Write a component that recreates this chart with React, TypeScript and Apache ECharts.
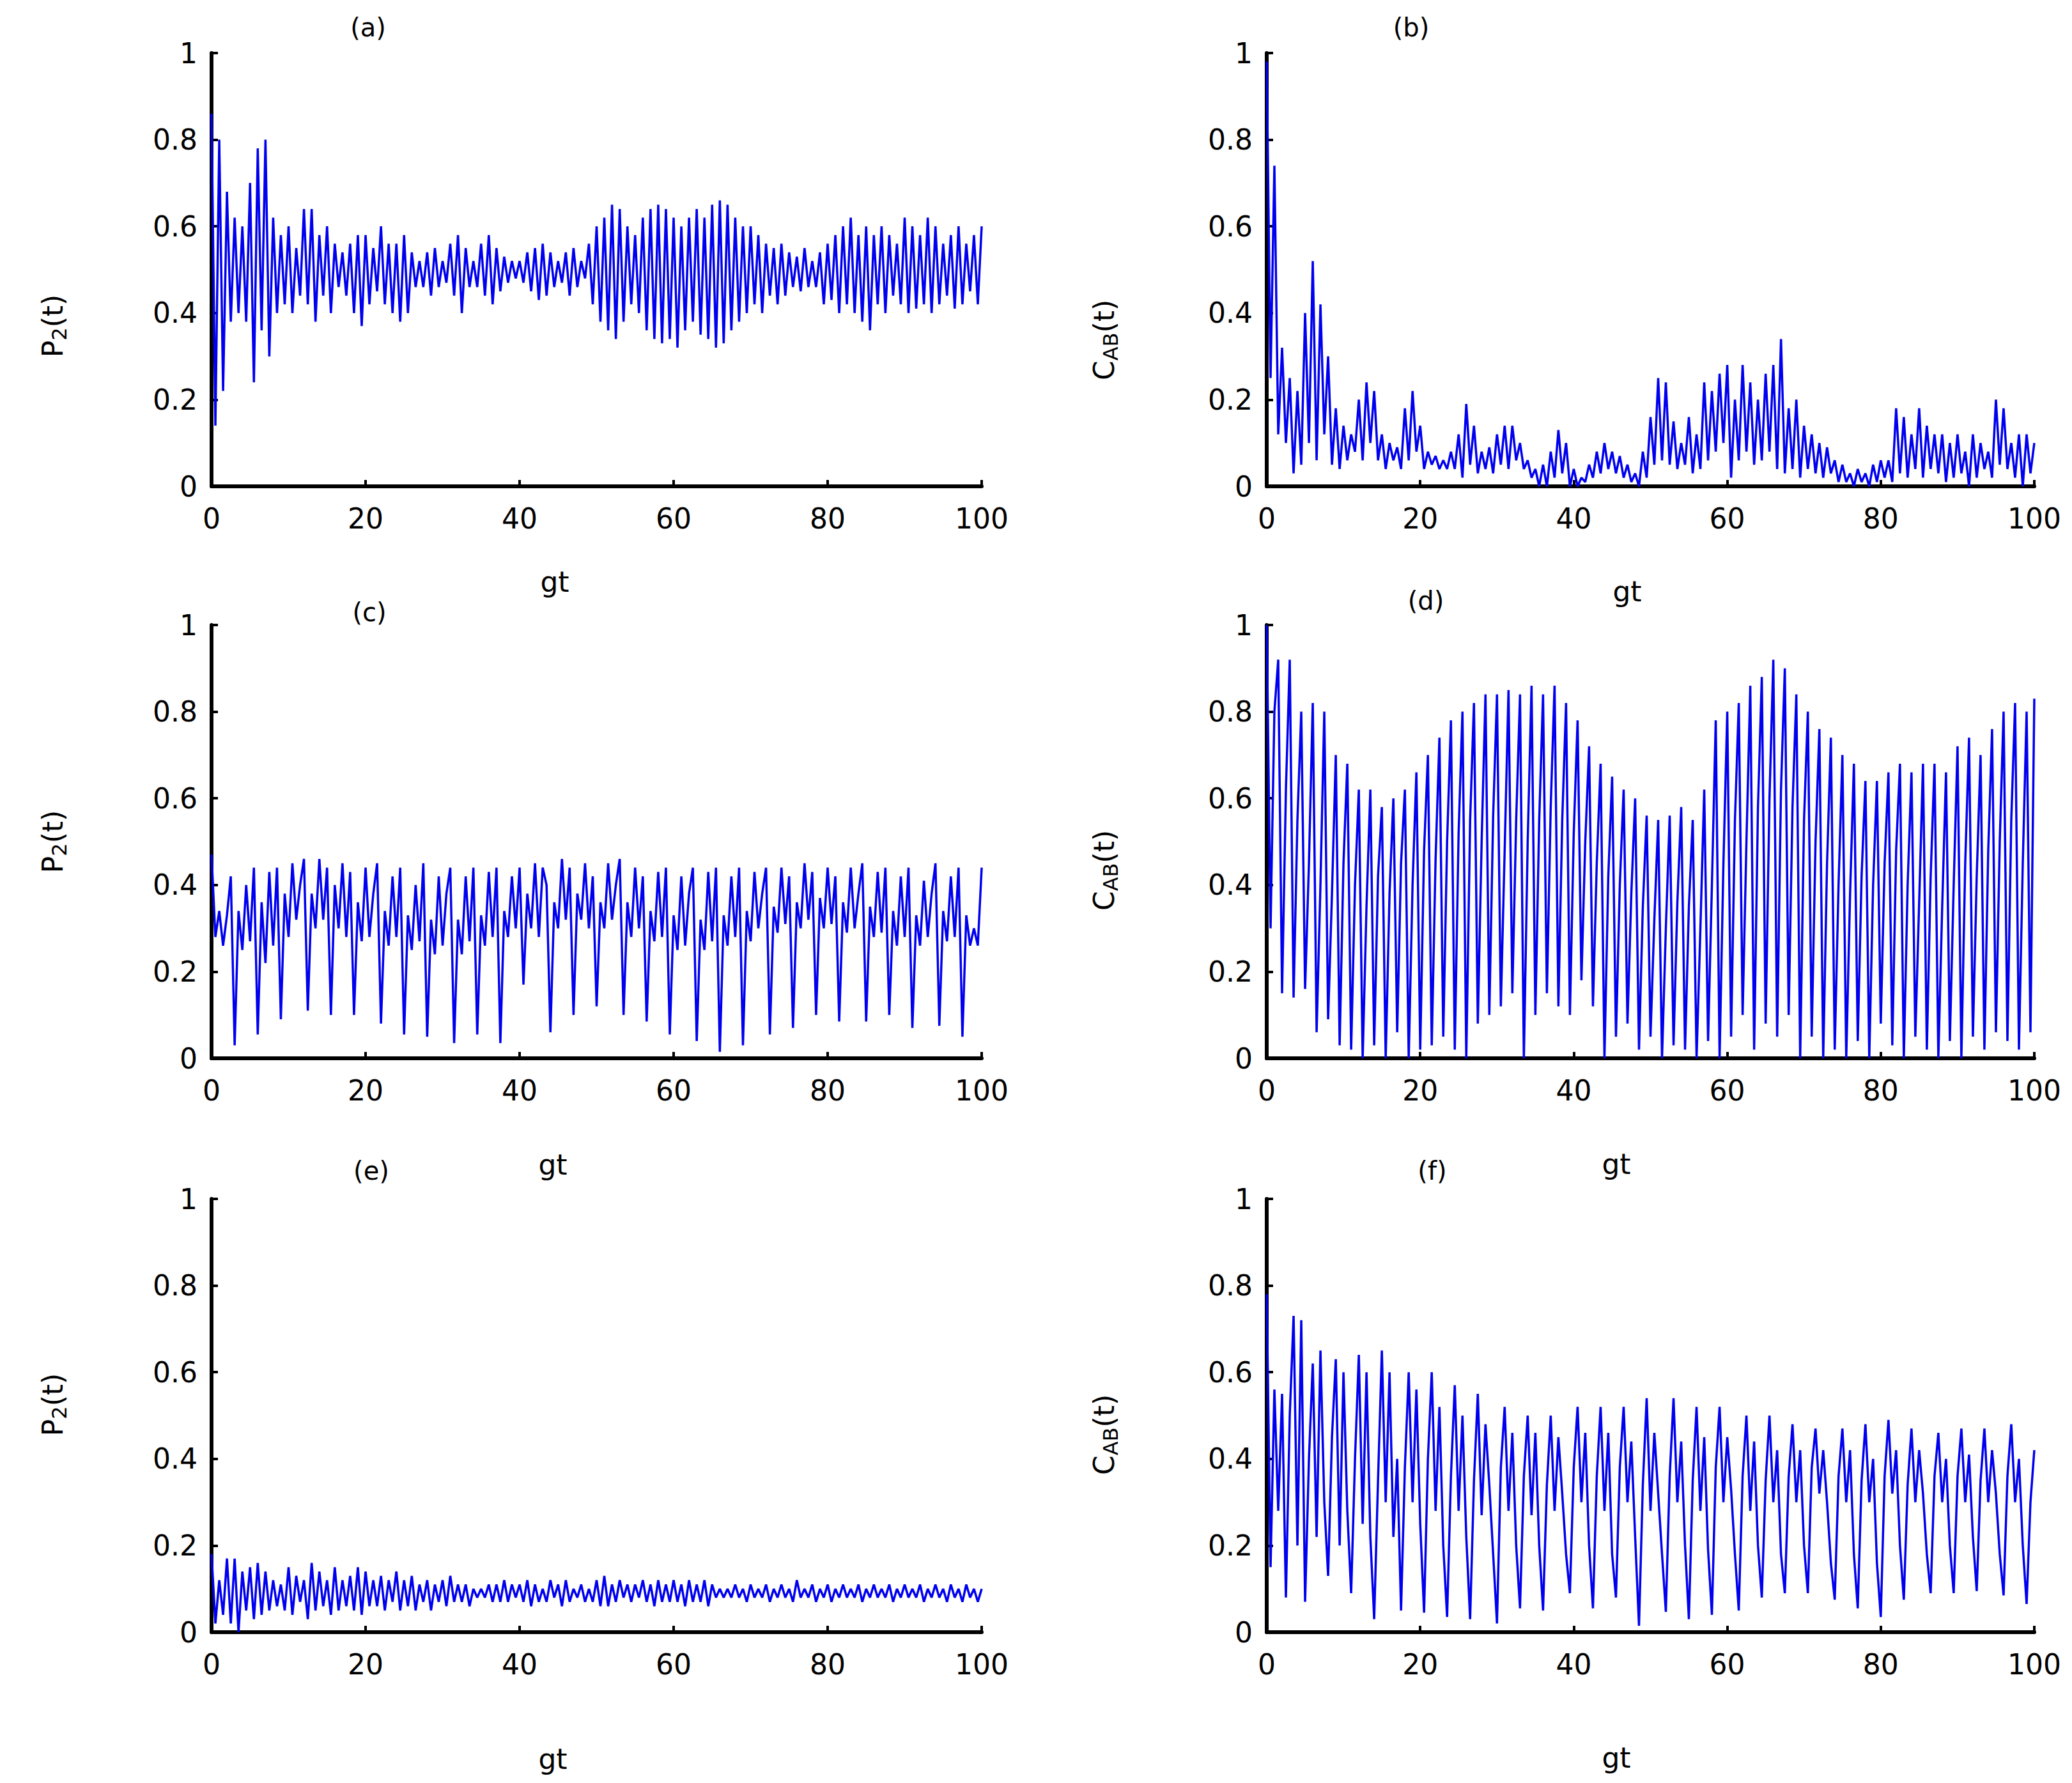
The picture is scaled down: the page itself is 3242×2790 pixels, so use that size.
import React, { useEffect, useRef } from "react";
import * as echarts from "echarts";

// sampling grid of gt (0 .. 100, step 0.5)
const TIME_STEP = 0.5;
const X_MIN = 0;
const X_MAX = 100;
const X_INTERVAL = 20;
const Y_MIN = 0;
const Y_MAX = 1;
const Y_INTERVAL = 0.2;

const PANEL_LETTERS = ["(a)", "(b)", "(c)", "(d)", "(e)", "(f)"];
const X_TITLE = "gt";

// (a) P2(t)
const P2_A = [
  0.86, 0.14, 0.80, 0.22, 0.68, 0.38, 0.62, 0.40, 0.60, 0.38,
  0.70, 0.24, 0.78, 0.36, 0.80, 0.30, 0.62, 0.40, 0.58, 0.42,
  0.60, 0.40, 0.55, 0.44, 0.64, 0.42, 0.64, 0.38, 0.58, 0.44,
  0.60, 0.40, 0.56, 0.46, 0.54, 0.44, 0.56, 0.40, 0.58, 0.37,
  0.58, 0.42, 0.55, 0.45, 0.60, 0.42, 0.56, 0.40, 0.56, 0.38,
  0.58, 0.40, 0.54, 0.46, 0.52, 0.46, 0.54, 0.44, 0.55, 0.46,
  0.52, 0.47, 0.56, 0.44, 0.58, 0.40, 0.55, 0.46, 0.52, 0.46,
  0.56, 0.44, 0.58, 0.42, 0.55, 0.45, 0.53, 0.47, 0.52, 0.48,
  0.52, 0.47, 0.54, 0.45, 0.55, 0.43, 0.56, 0.44, 0.54, 0.46,
  0.52, 0.47, 0.54, 0.44, 0.55, 0.46, 0.52, 0.48, 0.56, 0.42,
  0.60, 0.38, 0.62, 0.36, 0.65, 0.34, 0.64, 0.38, 0.60, 0.42,
  0.58, 0.40, 0.62, 0.36, 0.64, 0.34, 0.65, 0.33, 0.64, 0.34,
  0.62, 0.32, 0.60, 0.36, 0.62, 0.38, 0.64, 0.35, 0.62, 0.34,
  0.65, 0.32, 0.66, 0.33, 0.65, 0.36, 0.62, 0.38, 0.60, 0.40,
  0.60, 0.42, 0.58, 0.40, 0.56, 0.44, 0.55, 0.42, 0.56, 0.44,
  0.54, 0.46, 0.53, 0.45, 0.55, 0.46, 0.52, 0.46, 0.54, 0.42,
  0.56, 0.43, 0.58, 0.40, 0.60, 0.42, 0.62, 0.40, 0.58, 0.38,
  0.60, 0.36, 0.58, 0.42, 0.60, 0.40, 0.58, 0.44, 0.56, 0.42,
  0.62, 0.40, 0.60, 0.41, 0.58, 0.42, 0.62, 0.40, 0.60, 0.42,
  0.56, 0.44, 0.58, 0.41, 0.60, 0.42, 0.56, 0.45, 0.58, 0.42,
  0.60,
];

// (b) C_AB(t)
const CAB_B = [
  0.98, 0.25, 0.74, 0.12, 0.32, 0.10, 0.25, 0.03, 0.22, 0.05,
  0.40, 0.10, 0.52, 0.06, 0.42, 0.12, 0.30, 0.05, 0.18, 0.04,
  0.14, 0.06, 0.12, 0.08, 0.20, 0.06, 0.24, 0.10, 0.22, 0.06,
  0.12, 0.04, 0.10, 0.06, 0.09, 0.04, 0.18, 0.06, 0.22, 0.08,
  0.14, 0.04, 0.08, 0.05, 0.07, 0.04, 0.06, 0.04, 0.08, 0.04,
  0.12, 0.02, 0.19, 0.05, 0.14, 0.03, 0.08, 0.04, 0.09, 0.03,
  0.12, 0.05, 0.14, 0.04, 0.14, 0.06, 0.10, 0.04, 0.06, 0.02,
  0.04, 0.00, 0.05, 0.00, 0.08, 0.02, 0.13, 0.03, 0.10, 0.00,
  0.04, 0.00, 0.02, 0.01, 0.05, 0.02, 0.08, 0.03, 0.10, 0.04,
  0.08, 0.03, 0.07, 0.02, 0.05, 0.01, 0.03, 0.00, 0.08, 0.02,
  0.16, 0.05, 0.25, 0.06, 0.24, 0.05, 0.15, 0.04, 0.10, 0.05,
  0.16, 0.03, 0.12, 0.04, 0.24, 0.06, 0.22, 0.08, 0.26, 0.10,
  0.28, 0.02, 0.20, 0.06, 0.28, 0.08, 0.24, 0.05, 0.20, 0.06,
  0.26, 0.08, 0.28, 0.04, 0.34, 0.03, 0.18, 0.04, 0.20, 0.02,
  0.14, 0.04, 0.12, 0.03, 0.10, 0.02, 0.09, 0.03, 0.06, 0.01,
  0.05, 0.01, 0.03, 0.00, 0.04, 0.01, 0.03, 0.00, 0.05, 0.01,
  0.06, 0.02, 0.06, 0.01, 0.18, 0.03, 0.16, 0.02, 0.12, 0.04,
  0.18, 0.02, 0.14, 0.04, 0.12, 0.03, 0.12, 0.01, 0.10, 0.02,
  0.12, 0.03, 0.08, 0.00, 0.12, 0.02, 0.10, 0.04, 0.08, 0.02,
  0.20, 0.05, 0.18, 0.04, 0.10, 0.02, 0.12, 0.00, 0.12, 0.03,
  0.10,
];

// (c) P2(t)
const P2_C = [
  0.47, 0.28, 0.34, 0.26, 0.33, 0.42, 0.03, 0.34, 0.25, 0.40,
  0.27, 0.44, 0.055, 0.36, 0.22, 0.43, 0.26, 0.44, 0.09, 0.38,
  0.28, 0.45, 0.32, 0.40, 0.46, 0.11, 0.38, 0.30, 0.46, 0.32,
  0.44, 0.10, 0.40, 0.30, 0.45, 0.28, 0.43, 0.10, 0.36, 0.27,
  0.44, 0.28, 0.38, 0.45, 0.08, 0.34, 0.26, 0.42, 0.28, 0.44,
  0.055, 0.33, 0.25, 0.40, 0.27, 0.45, 0.05, 0.32, 0.24, 0.42,
  0.26, 0.38, 0.44, 0.035, 0.32, 0.24, 0.42, 0.27, 0.44, 0.055,
  0.33, 0.26, 0.43, 0.28, 0.44, 0.035, 0.34, 0.28, 0.42, 0.30,
  0.44, 0.17, 0.38, 0.30, 0.45, 0.28, 0.44, 0.40, 0.06, 0.36,
  0.30, 0.46, 0.32, 0.44, 0.10, 0.38, 0.32, 0.45, 0.30, 0.42,
  0.12, 0.36, 0.30, 0.45, 0.32, 0.40, 0.46, 0.10, 0.36, 0.28,
  0.44, 0.30, 0.42, 0.085, 0.34, 0.27, 0.43, 0.28, 0.44, 0.055,
  0.33, 0.25, 0.42, 0.26, 0.38, 0.44, 0.04, 0.32, 0.25, 0.43,
  0.27, 0.44, 0.015, 0.33, 0.26, 0.42, 0.28, 0.44, 0.03, 0.34,
  0.27, 0.43, 0.30, 0.38, 0.44, 0.055, 0.35, 0.29, 0.44, 0.31,
  0.42, 0.07, 0.36, 0.30, 0.45, 0.32, 0.43, 0.10, 0.37, 0.30,
  0.44, 0.31, 0.42, 0.085, 0.36, 0.29, 0.44, 0.30, 0.38, 0.45,
  0.085, 0.35, 0.28, 0.43, 0.29, 0.44, 0.10, 0.34, 0.26, 0.42,
  0.28, 0.44, 0.07, 0.33, 0.26, 0.41, 0.28, 0.38, 0.45, 0.075,
  0.34, 0.27, 0.42, 0.28, 0.44, 0.05, 0.33, 0.26, 0.30, 0.26,
  0.44,
];

// (d) C_AB(t)
const CAB_D = [
  1.00, 0.30, 0.80, 0.92, 0.15, 0.62, 0.92, 0.14, 0.55, 0.80,
  0.16, 0.45, 0.82, 0.06, 0.40, 0.80, 0.09, 0.38, 0.70, 0.03,
  0.45, 0.68, 0.02, 0.40, 0.62, 0.00, 0.35, 0.62, 0.03, 0.42,
  0.58, 0.00, 0.38, 0.60, 0.06, 0.45, 0.62, 0.00, 0.40, 0.66,
  0.02, 0.48, 0.70, 0.03, 0.46, 0.74, 0.05, 0.50, 0.78, 0.02,
  0.52, 0.80, 0.00, 0.55, 0.82, 0.08, 0.50, 0.84, 0.10, 0.56,
  0.84, 0.12, 0.48, 0.85, 0.15, 0.55, 0.84, 0.00, 0.50, 0.86,
  0.10, 0.55, 0.84, 0.15, 0.58, 0.86, 0.12, 0.55, 0.82, 0.10,
  0.52, 0.78, 0.18, 0.50, 0.72, 0.12, 0.45, 0.68, 0.00, 0.42,
  0.65, 0.05, 0.40, 0.62, 0.08, 0.38, 0.60, 0.02, 0.35, 0.56,
  0.05, 0.32, 0.55, 0.00, 0.30, 0.56, 0.03, 0.36, 0.58, 0.02,
  0.35, 0.55, 0.00, 0.30, 0.62, 0.04, 0.40, 0.78, 0.00, 0.45,
  0.80, 0.05, 0.55, 0.82, 0.10, 0.50, 0.86, 0.02, 0.58, 0.88,
  0.08, 0.60, 0.92, 0.05, 0.62, 0.90, 0.10, 0.58, 0.84, 0.00,
  0.55, 0.80, 0.05, 0.50, 0.76, 0.00, 0.45, 0.74, 0.02, 0.40,
  0.70, 0.00, 0.38, 0.68, 0.04, 0.42, 0.64, 0.00, 0.40, 0.64,
  0.08, 0.45, 0.66, 0.03, 0.48, 0.68, 0.00, 0.40, 0.66, 0.05,
  0.36, 0.68, 0.02, 0.42, 0.68, 0.00, 0.35, 0.66, 0.04, 0.40,
  0.72, 0.00, 0.45, 0.74, 0.05, 0.42, 0.70, 0.02, 0.48, 0.76,
  0.06, 0.50, 0.80, 0.04, 0.55, 0.82, 0.02, 0.45, 0.80, 0.06,
  0.83,
];

// (e) P2(t)
const P2_E = [
  0.18, 0.02, 0.12, 0.04, 0.17, 0.02, 0.17, 0.00, 0.14, 0.05,
  0.15, 0.03, 0.16, 0.04, 0.14, 0.05, 0.12, 0.06, 0.11, 0.05,
  0.15, 0.04, 0.13, 0.07, 0.12, 0.03, 0.16, 0.05, 0.14, 0.06,
  0.12, 0.04, 0.15, 0.05, 0.12, 0.06, 0.13, 0.05, 0.15, 0.04,
  0.14, 0.06, 0.12, 0.06, 0.13, 0.05, 0.12, 0.07, 0.14, 0.05,
  0.12, 0.06, 0.13, 0.05, 0.11, 0.07, 0.12, 0.05, 0.11, 0.07,
  0.12, 0.06, 0.13, 0.07, 0.11, 0.07, 0.11, 0.06, 0.10, 0.08,
  0.10, 0.08, 0.11, 0.07, 0.11, 0.07, 0.12, 0.07, 0.11, 0.08,
  0.11, 0.07, 0.12, 0.06, 0.11, 0.07, 0.10, 0.07, 0.12, 0.08,
  0.11, 0.06, 0.12, 0.07, 0.10, 0.08, 0.11, 0.07, 0.10, 0.07,
  0.12, 0.06, 0.13, 0.06, 0.11, 0.07, 0.12, 0.08, 0.11, 0.07,
  0.11, 0.08, 0.12, 0.07, 0.11, 0.06, 0.12, 0.07, 0.11, 0.07,
  0.12, 0.07, 0.11, 0.06, 0.12, 0.07, 0.11, 0.07, 0.12, 0.06,
  0.11, 0.08, 0.10, 0.08, 0.10, 0.08, 0.11, 0.08, 0.10, 0.07,
  0.11, 0.08, 0.10, 0.08, 0.11, 0.07, 0.10, 0.08, 0.11, 0.08,
  0.10, 0.07, 0.12, 0.08, 0.10, 0.08, 0.11, 0.07, 0.10, 0.08,
  0.11, 0.07, 0.10, 0.08, 0.11, 0.08, 0.10, 0.08, 0.11, 0.07,
  0.10, 0.08, 0.11, 0.08, 0.10, 0.08, 0.11, 0.07, 0.10, 0.08,
  0.11, 0.08, 0.10, 0.08, 0.11, 0.07, 0.10, 0.08, 0.11, 0.08,
  0.10, 0.07, 0.11, 0.08, 0.10, 0.07, 0.11, 0.08, 0.10, 0.07,
  0.10,
];

// (f) C_AB(t)
const CAB_F = [
  0.78, 0.15, 0.56, 0.28, 0.55, 0.08, 0.50, 0.73, 0.20, 0.72,
  0.07, 0.40, 0.62, 0.22, 0.65, 0.30, 0.13, 0.45, 0.63, 0.20,
  0.60, 0.28, 0.09, 0.40, 0.64, 0.25, 0.60, 0.22, 0.03, 0.35,
  0.65, 0.30, 0.60, 0.22, 0.40, 0.05, 0.38, 0.60, 0.30, 0.56,
  0.25, 0.045, 0.40, 0.60, 0.28, 0.52, 0.20, 0.035, 0.36, 0.57,
  0.28, 0.50, 0.22, 0.03, 0.35, 0.55, 0.27, 0.48, 0.34, 0.18,
  0.02, 0.38, 0.52, 0.28, 0.46, 0.20, 0.055, 0.36, 0.50, 0.27,
  0.46, 0.20, 0.05, 0.34, 0.50, 0.28, 0.45, 0.32, 0.18, 0.09,
  0.38, 0.52, 0.30, 0.46, 0.20, 0.055, 0.36, 0.52, 0.28, 0.46,
  0.18, 0.08, 0.38, 0.52, 0.30, 0.44, 0.22, 0.015, 0.34, 0.54,
  0.28, 0.46, 0.32, 0.18, 0.047, 0.36, 0.54, 0.30, 0.44, 0.20,
  0.03, 0.35, 0.52, 0.28, 0.45, 0.19, 0.04, 0.38, 0.52, 0.30,
  0.45, 0.33, 0.18, 0.05, 0.36, 0.50, 0.28, 0.44, 0.20, 0.08,
  0.35, 0.50, 0.30, 0.42, 0.18, 0.09, 0.36, 0.48, 0.30, 0.42,
  0.20, 0.09, 0.38, 0.47, 0.32, 0.42, 0.30, 0.16, 0.075, 0.36,
  0.47, 0.30, 0.42, 0.18, 0.055, 0.35, 0.48, 0.30, 0.40, 0.16,
  0.035, 0.36, 0.49, 0.32, 0.42, 0.20, 0.075, 0.34, 0.47, 0.30,
  0.42, 0.32, 0.18, 0.09, 0.36, 0.46, 0.30, 0.40, 0.20, 0.09,
  0.36, 0.47, 0.30, 0.41, 0.22, 0.095, 0.35, 0.47, 0.30, 0.42,
  0.32, 0.18, 0.085, 0.36, 0.48, 0.30, 0.40, 0.20, 0.065, 0.30,
  0.42,
];

const PANEL_VALUES = [P2_A, CAB_B, P2_C, CAB_D, P2_E, CAB_F];
const Y_TITLES = ["P2", "CAB", "P2", "CAB", "P2", "CAB"];

const FONT = '"DejaVu Sans", "Liberation Sans", sans-serif';
const LINE_COLOR = "#0000f0";

// layout (pixels)
const LEFT_X = 331;
const RIGHT_X = 1982;
const GRID_W_LEFT = 1205;
const GRID_W_RIGHT = 1201;
const ROW_TOP = [83, 978, 1876];
const GRID_H = 678;

const LETTER_POS = [
  [576, 43], [2208, 43], [578, 958], [2231, 940], [581, 1832], [2241, 1832],
];
const GT_POS = [
  [868, 910], [2546, 925], [865, 1822], [2529, 1821], [865, 2752], [2529, 2750],
];
const YT_POS = [
  [82, 510], [1727, 532], [82, 1317], [1727, 1362], [82, 2198], [1727, 2245],
];

function buildOption() {
  const grids: any[] = [];
  const xAxes: any[] = [];
  const yAxes: any[] = [];
  const series: any[] = [];
  const graphics: any[] = [];
  PANEL_VALUES.forEach((vals, i) => {
    const col = i % 2;
    const row = Math.floor(i / 2);
    grids.push({
      left: col === 0 ? LEFT_X : RIGHT_X,
      top: ROW_TOP[row],
      width: col === 0 ? GRID_W_LEFT : GRID_W_RIGHT,
      height: GRID_H,
      containLabel: false,
    });
    xAxes.push({
      type: "value",
      gridIndex: i,
      min: X_MIN,
      max: X_MAX,
      interval: X_INTERVAL,
      axisLine: { show: true, onZero: false, lineStyle: { color: "#000", width: 6 } },
      axisTick: { show: true, inside: true, length: 10, lineStyle: { color: "#000", width: 4 } },
      axisLabel: { color: "#000", fontSize: 44, fontFamily: FONT, margin: 28 },
      splitLine: { show: false },
    });
    yAxes.push({
      type: "value",
      gridIndex: i,
      min: Y_MIN,
      max: Y_MAX,
      interval: Y_INTERVAL,
      axisLine: { show: true, onZero: false, lineStyle: { color: "#000", width: 6 } },
      axisTick: { show: true, inside: true, length: 10, lineStyle: { color: "#000", width: 4 } },
      axisLabel: { color: "#000", fontSize: 44, fontFamily: FONT, margin: 22 },
      splitLine: { show: false },
    });
    series.push({
      type: "line",
      xAxisIndex: i,
      yAxisIndex: i,
      symbol: "none",
      showSymbol: false,
      clip: true,
      lineStyle: { color: LINE_COLOR, width: 3.5 },
      data: vals.map((v, j) => [j * TIME_STEP, v]),
    });
    graphics.push({
      type: "text",
      x: LETTER_POS[i][0],
      y: LETTER_POS[i][1],
      style: {
        text: PANEL_LETTERS[i],
        fontSize: 40,
        fontFamily: FONT,
        fill: "#000",
        align: "center",
        verticalAlign: "middle",
      },
    });
    graphics.push({
      type: "text",
      x: GT_POS[i][0],
      y: GT_POS[i][1],
      style: {
        text: X_TITLE,
        fontSize: 44,
        fontFamily: FONT,
        fill: "#000",
        align: "center",
        verticalAlign: "middle",
      },
    });
    const t = Y_TITLES[i];
    const main = t.charAt(0);
    const sub = t.slice(1);
    graphics.push({
      type: "text",
      x: YT_POS[i][0],
      y: YT_POS[i][1],
      rotation: Math.PI / 2,
      style: {
        text: `{n|${main}}{s|${sub}}{n|(t)}`,
        align: "center",
        verticalAlign: "middle",
        rich: {
          n: { fontSize: 44, fontFamily: FONT, fill: "#000" },
          s: { fontSize: 32, fontFamily: FONT, fill: "#000", padding: [22, 0, 0, 0] },
        },
      },
    });
  });
  return {
    animation: false,
    backgroundColor: "#ffffff",
    grid: grids,
    xAxis: xAxes,
    yAxis: yAxes,
    series,
    graphic: graphics,
  };
}

export default function App() {
  const ref = useRef<HTMLDivElement>(null);
  useEffect(() => {
    document.body.style.margin = "0";
    if (!ref.current) return;
    const chart = echarts.init(ref.current, undefined, { renderer: "svg" });
    chart.setOption(buildOption() as any);
    return () => chart.dispose();
  }, []);
  return <div ref={ref} style={{ width: 3242, height: 2790, background: "#fff" }} />;
}
